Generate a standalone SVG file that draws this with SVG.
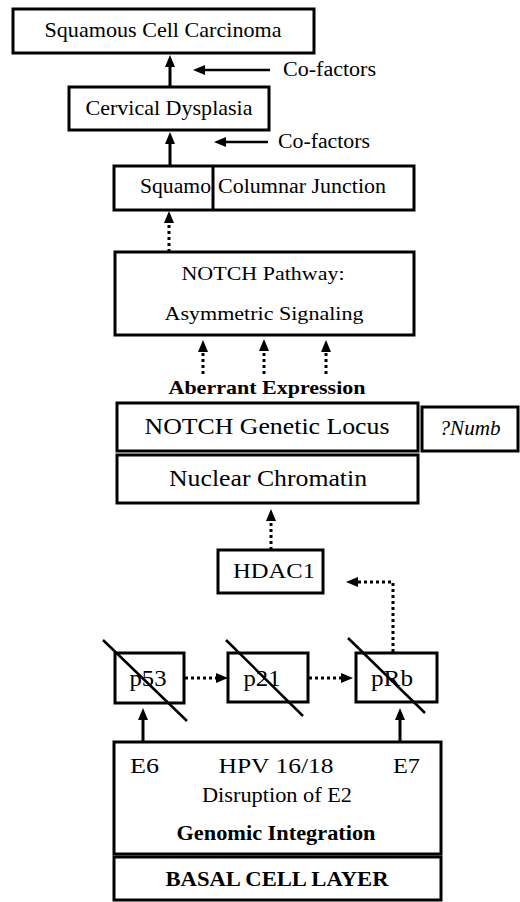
<svg xmlns="http://www.w3.org/2000/svg" width="520" height="902" viewBox="0 0 520 902">
<style>
.box{fill:#fff;stroke:#000;stroke-width:3}
.t{font-family:"Liberation Serif","Times New Roman",serif;fill:#000}
.b{font-weight:bold}
.sol{stroke:#000;stroke-width:3;fill:none}
.thin{stroke:#000;stroke-width:2.5;fill:none}
.dot{stroke:#000;stroke-width:3;stroke-dasharray:3 3;fill:none}
.slash{stroke:#000;stroke-width:2.5}
</style>
<defs>
<marker id="ah" viewBox="0 0 12 10" markerWidth="12" markerHeight="10" refX="1" refY="5" markerUnits="userSpaceOnUse" orient="auto">
<path d="M0,0 L12,5 L0,10 z" fill="#000"/>
</marker>
</defs>
<rect width="520" height="902" fill="#fff"/>

<g id="scc"><rect class="box" x="13" y="9" width="301" height="44"/>
<text class="t" x="163" y="37" font-size="21" text-anchor="middle" textLength="237" lengthAdjust="spacingAndGlyphs">Squamous Cell Carcinoma</text></g>

<g id="dysplasia"><rect class="box" x="69" y="87" width="200" height="43"/>
<text class="t" x="169" y="115" font-size="21" text-anchor="middle" textLength="167" lengthAdjust="spacingAndGlyphs">Cervical Dysplasia</text></g>

<g id="cofactors1"><text class="t" x="283" y="76" font-size="20" textLength="93" lengthAdjust="spacingAndGlyphs">Co-factors</text></g>
<g id="cofactors2"><text class="t" x="278" y="148" font-size="20" textLength="92" lengthAdjust="spacingAndGlyphs">Co-factors</text></g>

<g id="junction"><rect class="box" x="114" y="166" width="300" height="44"/>
<line class="sol" x1="213" y1="166" x2="213" y2="210"/>
<text class="t" x="140" y="193" font-size="20" textLength="71" lengthAdjust="spacingAndGlyphs">Squamo</text>
<text class="t" x="218" y="193" font-size="20" textLength="168" lengthAdjust="spacingAndGlyphs">Columnar Junction</text></g>

<g id="notchpathway"><rect class="box" x="115" y="252" width="299" height="83"/>
<text class="t" x="263" y="280" font-size="19" text-anchor="middle" textLength="163" lengthAdjust="spacingAndGlyphs">NOTCH Pathway:</text>
<text class="t" x="264" y="320" font-size="19" text-anchor="middle" textLength="199" lengthAdjust="spacingAndGlyphs">Asymmetric Signaling</text></g>

<g id="aberrant"><text class="t b" x="267" y="394" font-size="19" text-anchor="middle" textLength="197" lengthAdjust="spacingAndGlyphs">Aberrant Expression</text></g>

<g id="locus"><rect class="box" x="117" y="403" width="301" height="48"/>
<text class="t" x="267" y="434" font-size="24" text-anchor="middle" textLength="245" lengthAdjust="spacingAndGlyphs">NOTCH Genetic Locus</text></g>

<g id="chromatin"><rect class="box" x="117" y="455" width="301" height="48"/>
<text class="t" x="268" y="486" font-size="24" text-anchor="middle" textLength="198" lengthAdjust="spacingAndGlyphs">Nuclear Chromatin</text></g>

<g id="numb"><rect class="box" x="422" y="407" width="96" height="44"/>
<text class="t" x="470" y="435" font-size="20" font-style="italic" text-anchor="middle" textLength="61" lengthAdjust="spacingAndGlyphs">?Numb</text></g>

<g id="hdac1"><rect class="box" x="218" y="550" width="105" height="43"/>
<text class="t" x="274" y="578" font-size="20" text-anchor="middle" textLength="82" lengthAdjust="spacingAndGlyphs">HDAC1</text></g>

<g id="p53"><rect class="box" x="115" y="653" width="69" height="50"/>
<text class="t" x="148" y="686" font-size="23" text-anchor="middle" textLength="37" lengthAdjust="spacingAndGlyphs">p53</text>
<line class="slash" x1="103" y1="640" x2="187" y2="721"/></g>

<g id="p21"><rect class="box" x="228" y="653" width="80" height="49"/>
<text class="t" x="262" y="686" font-size="23" text-anchor="middle" textLength="37" lengthAdjust="spacingAndGlyphs">p21</text>
<line class="slash" x1="226" y1="640" x2="303" y2="716"/></g>

<g id="prb"><rect class="box" x="356" y="653" width="81" height="49"/>
<text class="t" x="392" y="686" font-size="23" text-anchor="middle" textLength="42" lengthAdjust="spacingAndGlyphs">pRb</text>
<line class="slash" x1="348" y1="638" x2="425" y2="713"/></g>

<g id="hpv"><rect class="box" x="114" y="742" width="327" height="112"/>
<text class="t" x="130" y="773" font-size="22" textLength="29" lengthAdjust="spacingAndGlyphs">E6</text>
<text class="t" x="276" y="773" font-size="22" text-anchor="middle" textLength="115" lengthAdjust="spacingAndGlyphs">HPV 16/18</text>
<text class="t" x="393" y="773" font-size="22" textLength="27" lengthAdjust="spacingAndGlyphs">E7</text>
<text class="t" x="277" y="802" font-size="20" text-anchor="middle" textLength="150" lengthAdjust="spacingAndGlyphs">Disruption of E2</text>
<text class="t b" x="276" y="840" font-size="20" text-anchor="middle" textLength="199" lengthAdjust="spacingAndGlyphs">Genomic Integration</text></g>

<g id="basal"><rect class="box" x="114" y="857" width="327" height="43"/>
<text class="t b" x="277" y="886" font-size="21" text-anchor="middle" textLength="223" lengthAdjust="spacingAndGlyphs">BASAL CELL LAYER</text></g>

<g id="connectors">
<line class="sol" x1="170" y1="87" x2="170" y2="66" marker-end="url(#ah)"/>
<line class="thin" x1="270" y1="70" x2="204" y2="70" marker-end="url(#ah)"/>
<line class="sol" x1="170" y1="166" x2="170" y2="143" marker-end="url(#ah)"/>
<line class="thin" x1="268" y1="142" x2="225" y2="142" marker-end="url(#ah)"/>
<line class="dot" x1="169" y1="252" x2="169" y2="222" marker-end="url(#ah)"/>
<line class="dot" x1="203" y1="374" x2="203" y2="351" marker-end="url(#ah)"/>
<line class="dot" x1="264" y1="374" x2="264" y2="350" marker-end="url(#ah)"/>
<line class="dot" x1="326" y1="374" x2="326" y2="351" marker-end="url(#ah)"/>
<line class="dot" x1="271" y1="550" x2="271" y2="520" marker-end="url(#ah)"/>
<polyline class="dot" points="393,652 393,582 357,582" marker-end="url(#ah)"/>
<line class="dot" x1="185" y1="678" x2="217" y2="678" marker-end="url(#ah)"/>
<line class="dot" x1="309" y1="678" x2="342" y2="678" marker-end="url(#ah)"/>
<line class="sol" x1="143" y1="742" x2="143" y2="719" marker-end="url(#ah)"/>
<line class="sol" x1="400" y1="742" x2="400" y2="719" marker-end="url(#ah)"/>
</g>
</svg>
